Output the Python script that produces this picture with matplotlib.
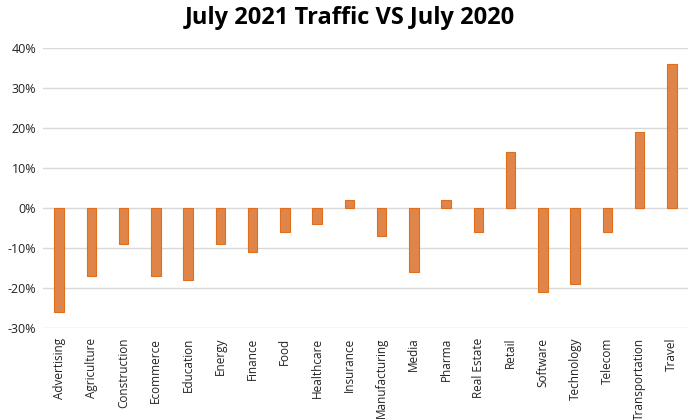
import matplotlib.pyplot as plt
import numpy as np
from matplotlib.ticker import FuncFormatter

categories = ['Advertising', 'Agriculture', 'Construction', 'Ecommerce', 'Education',
              'Energy', 'Finance', 'Food', 'Healthcare', 'Insurance', 'Manufacturing',
              'Media', 'Pharma', 'Real Estate', 'Retail', 'Software', 'Technology',
              'Telecom', 'Transportation', 'Travel']
change_pct = [-26, -17, -9, -17, -18, -9, -11, -6, -4, 2, -7,
              -16, 2, -6, 14, -21, -19, -6, 19, 36]
y_ticks = [-30, -20, -10, 0, 10, 20, 30, 40]

plt.rcParams['font.family'] = ['Open Sans', 'DejaVu Sans']

fig = plt.figure(figsize=(7, 4.2), dpi=100)
ax = fig.add_axes([43 / 700, 1 - 328 / 420, 645 / 700, 280 / 420])

x = np.arange(len(categories))
ax.bar(x, change_pct, width=0.3, color='#E0854A', edgecolor='#E06E1A', linewidth=0.8, zorder=3)

ax.set_xlim(-0.5, len(categories) - 0.5)
ax.set_ylim(-30, 40)
ax.set_yticks(y_ticks)
ax.yaxis.set_major_formatter(FuncFormatter(lambda v, _: f'{v:.0f}%'))
ax.set_xticks(x)
ax.set_xticklabels(categories, rotation=90, fontsize=8.5, color='#222222')
ax.tick_params(axis='y', labelsize=9, length=0, pad=5, labelcolor='#222222')
ax.tick_params(axis='x', length=0, pad=7)
ax.grid(axis='y', color='#D9D9D9', linewidth=1, zorder=0)
for s in ax.spines.values():
    s.set_visible(False)

fig.suptitle('July 2021 Traffic VS July 2020', x=0.5, y=0.985, fontsize=17, fontweight='bold')

plt.savefig('out.png', dpi=100)
plt.close()
